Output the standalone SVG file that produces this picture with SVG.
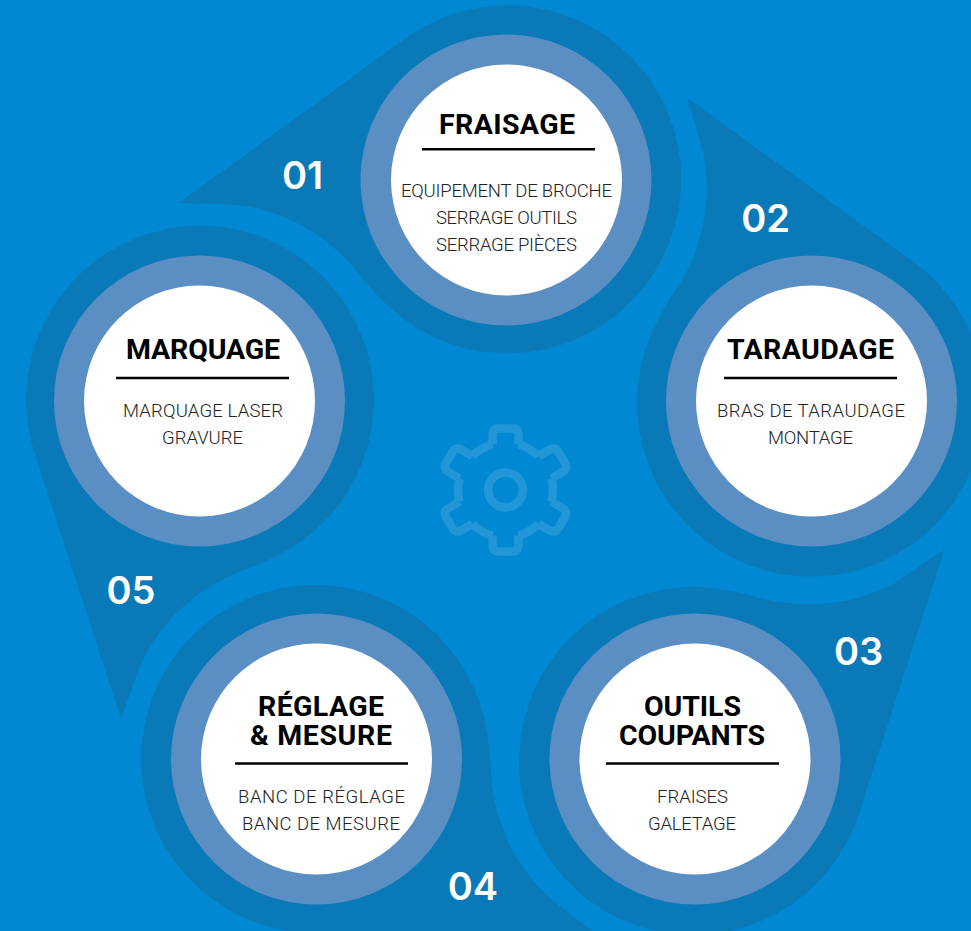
<svg xmlns="http://www.w3.org/2000/svg" width="971" height="931" viewBox="0 0 971 931">
<style>
.dark{fill:#0a79b8}.mid{fill:#5b8fc4}.white{fill:#fff}
.t{font-family:"Roboto","Liberation Sans",sans-serif;font-weight:700;font-size:28.5px;fill:#000;text-anchor:middle}
.b{font-family:"Roboto","Liberation Sans",sans-serif;font-weight:300;font-size:18.5px;fill:#222;text-anchor:middle}
.n{font-family:"Inter","Liberation Sans",sans-serif;font-weight:600;font-size:38px;fill:#fff;text-anchor:middle}
.r{stroke:#000;stroke-width:2.5;fill:none}
.g{fill:none;stroke:#2396d8;stroke-width:8.5;stroke-linejoin:round}
</style>
<defs>
<path id="tear" class="dark" d="M179,203 L403,40 A174,174 0 1 1 380,298 Q372,290 366,283 C335,240 285,205 220,204 Z"/>
<path id="tooth" d="M-12.9,-45.7 V-56 Q-12.9,-61.4 -7.5,-61.4 H7.5 Q12.9,-61.4 12.9,-56 V-45.7"/>
<path id="toothd" d="M-12.9,-45.7 V-58 Q-12.9,-65 -6,-65 H6 Q12.9,-65 12.9,-58 V-45.7"/>
<path id="arc" d="M12.9,-45.7 A47.5,47.5 0 0 1 33.1,-34"/>
</defs>
<rect width="971" height="931" fill="#0089d2"/>
<g id="gear" class="g" transform="translate(505.5,490)">
<circle r="17.4"/>
<use href="#tooth"/><use href="#toothd" transform="rotate(60)"/><use href="#toothd" transform="rotate(120)"/><use href="#tooth" transform="rotate(180)"/><use href="#toothd" transform="rotate(240)"/><use href="#toothd" transform="rotate(300)"/>
<use href="#arc"/><use href="#arc" transform="rotate(60)"/><use href="#arc" transform="rotate(120)"/><use href="#arc" transform="rotate(180)"/><use href="#arc" transform="rotate(240)"/><use href="#arc" transform="rotate(300)"/>
</g>
<g id="node-fraisage">
<use href="#tear"/>
<circle class="mid" cx="506" cy="180" r="145.5"/><circle class="white" cx="506.5" cy="180" r="115.5"/>
<text class="n" x="302.5" y="189">01</text>
<text class="t" x="507" y="134" textLength="136">FRAISAGE</text>
<line class="r" x1="422" y1="149.3" x2="595" y2="149.3"/>
<text class="b" x="506.5" y="197" textLength="211">EQUIPEMENT DE BROCHE</text>
<text class="b" x="506.5" y="224" textLength="141">SERRAGE OUTILS</text>
<text class="b" x="506.5" y="251" textLength="141">SERRAGE PIÈCES</text>
</g>
<g id="node-taraudage">
<use href="#tear" transform="translate(0,0) rotate(72 505.5 500)"/>
<circle class="mid" cx="811.5" cy="401" r="145.5"/><circle class="white" cx="811.5" cy="401" r="115.5"/>
<text class="n" x="765.5" y="232">02</text>
<text class="t" x="810.5" y="359" textLength="167">TARAUDAGE</text>
<line class="r" x1="724" y1="378" x2="897" y2="378"/>
<text class="b" x="811" y="417" textLength="188">BRAS DE TARAUDAGE</text>
<text class="b" x="810.5" y="444" textLength="85">MONTAGE</text>
</g>
<g id="node-outils">
<use href="#tear" transform="translate(0.5,0.5) rotate(144 505.5 500)"/>
<circle class="mid" cx="695" cy="759" r="145.5"/><circle class="white" cx="695" cy="759" r="115.5"/>
<text class="n" x="858.5" y="665">03</text>
<text class="t" x="692.5" y="716" textLength="97">OUTILS</text>
<text class="t" x="692" y="745" textLength="146">COUPANTS</text>
<line class="r" x1="606" y1="763.5" x2="779" y2="763.5"/>
<text class="b" x="692.5" y="803" textLength="71">FRAISES</text>
<text class="b" x="692" y="830" textLength="88">GALETAGE</text>
</g>
<g id="node-reglage">
<use href="#tear" transform="translate(-0.5,0.5) rotate(216 505.5 500)"/>
<circle class="mid" cx="316.5" cy="759" r="145.5"/><circle class="white" cx="316.5" cy="759" r="115.5"/>
<text class="n" x="473" y="900">04</text>
<text class="t" x="321" y="716" textLength="126">RÉGLAGE</text>
<text class="t" x="321" y="745" textLength="142">&amp; MESURE</text>
<line class="r" x1="235" y1="763.5" x2="408" y2="763.5"/>
<text class="b" x="321.5" y="803" textLength="167">BANC DE RÉGLAGE</text>
<text class="b" x="321" y="830" textLength="158">BANC DE MESURE</text>
</g>
<g id="node-marquage">
<use href="#tear" transform="translate(-1,0.5) rotate(288 505.5 500)"/>
<circle class="mid" cx="199.5" cy="401" r="145.5"/><circle class="white" cx="199.5" cy="401" r="115.5"/>
<text class="n" x="131" y="604">05</text>
<text class="t" x="203" y="359" textLength="154">MARQUAGE</text>
<line class="r" x1="116" y1="378" x2="289" y2="378"/>
<text class="b" x="203" y="417" textLength="160">MARQUAGE LASER</text>
<text class="b" x="202.5" y="444" textLength="81">GRAVURE</text>
</g>
<g id="connectors"/>
</svg>
